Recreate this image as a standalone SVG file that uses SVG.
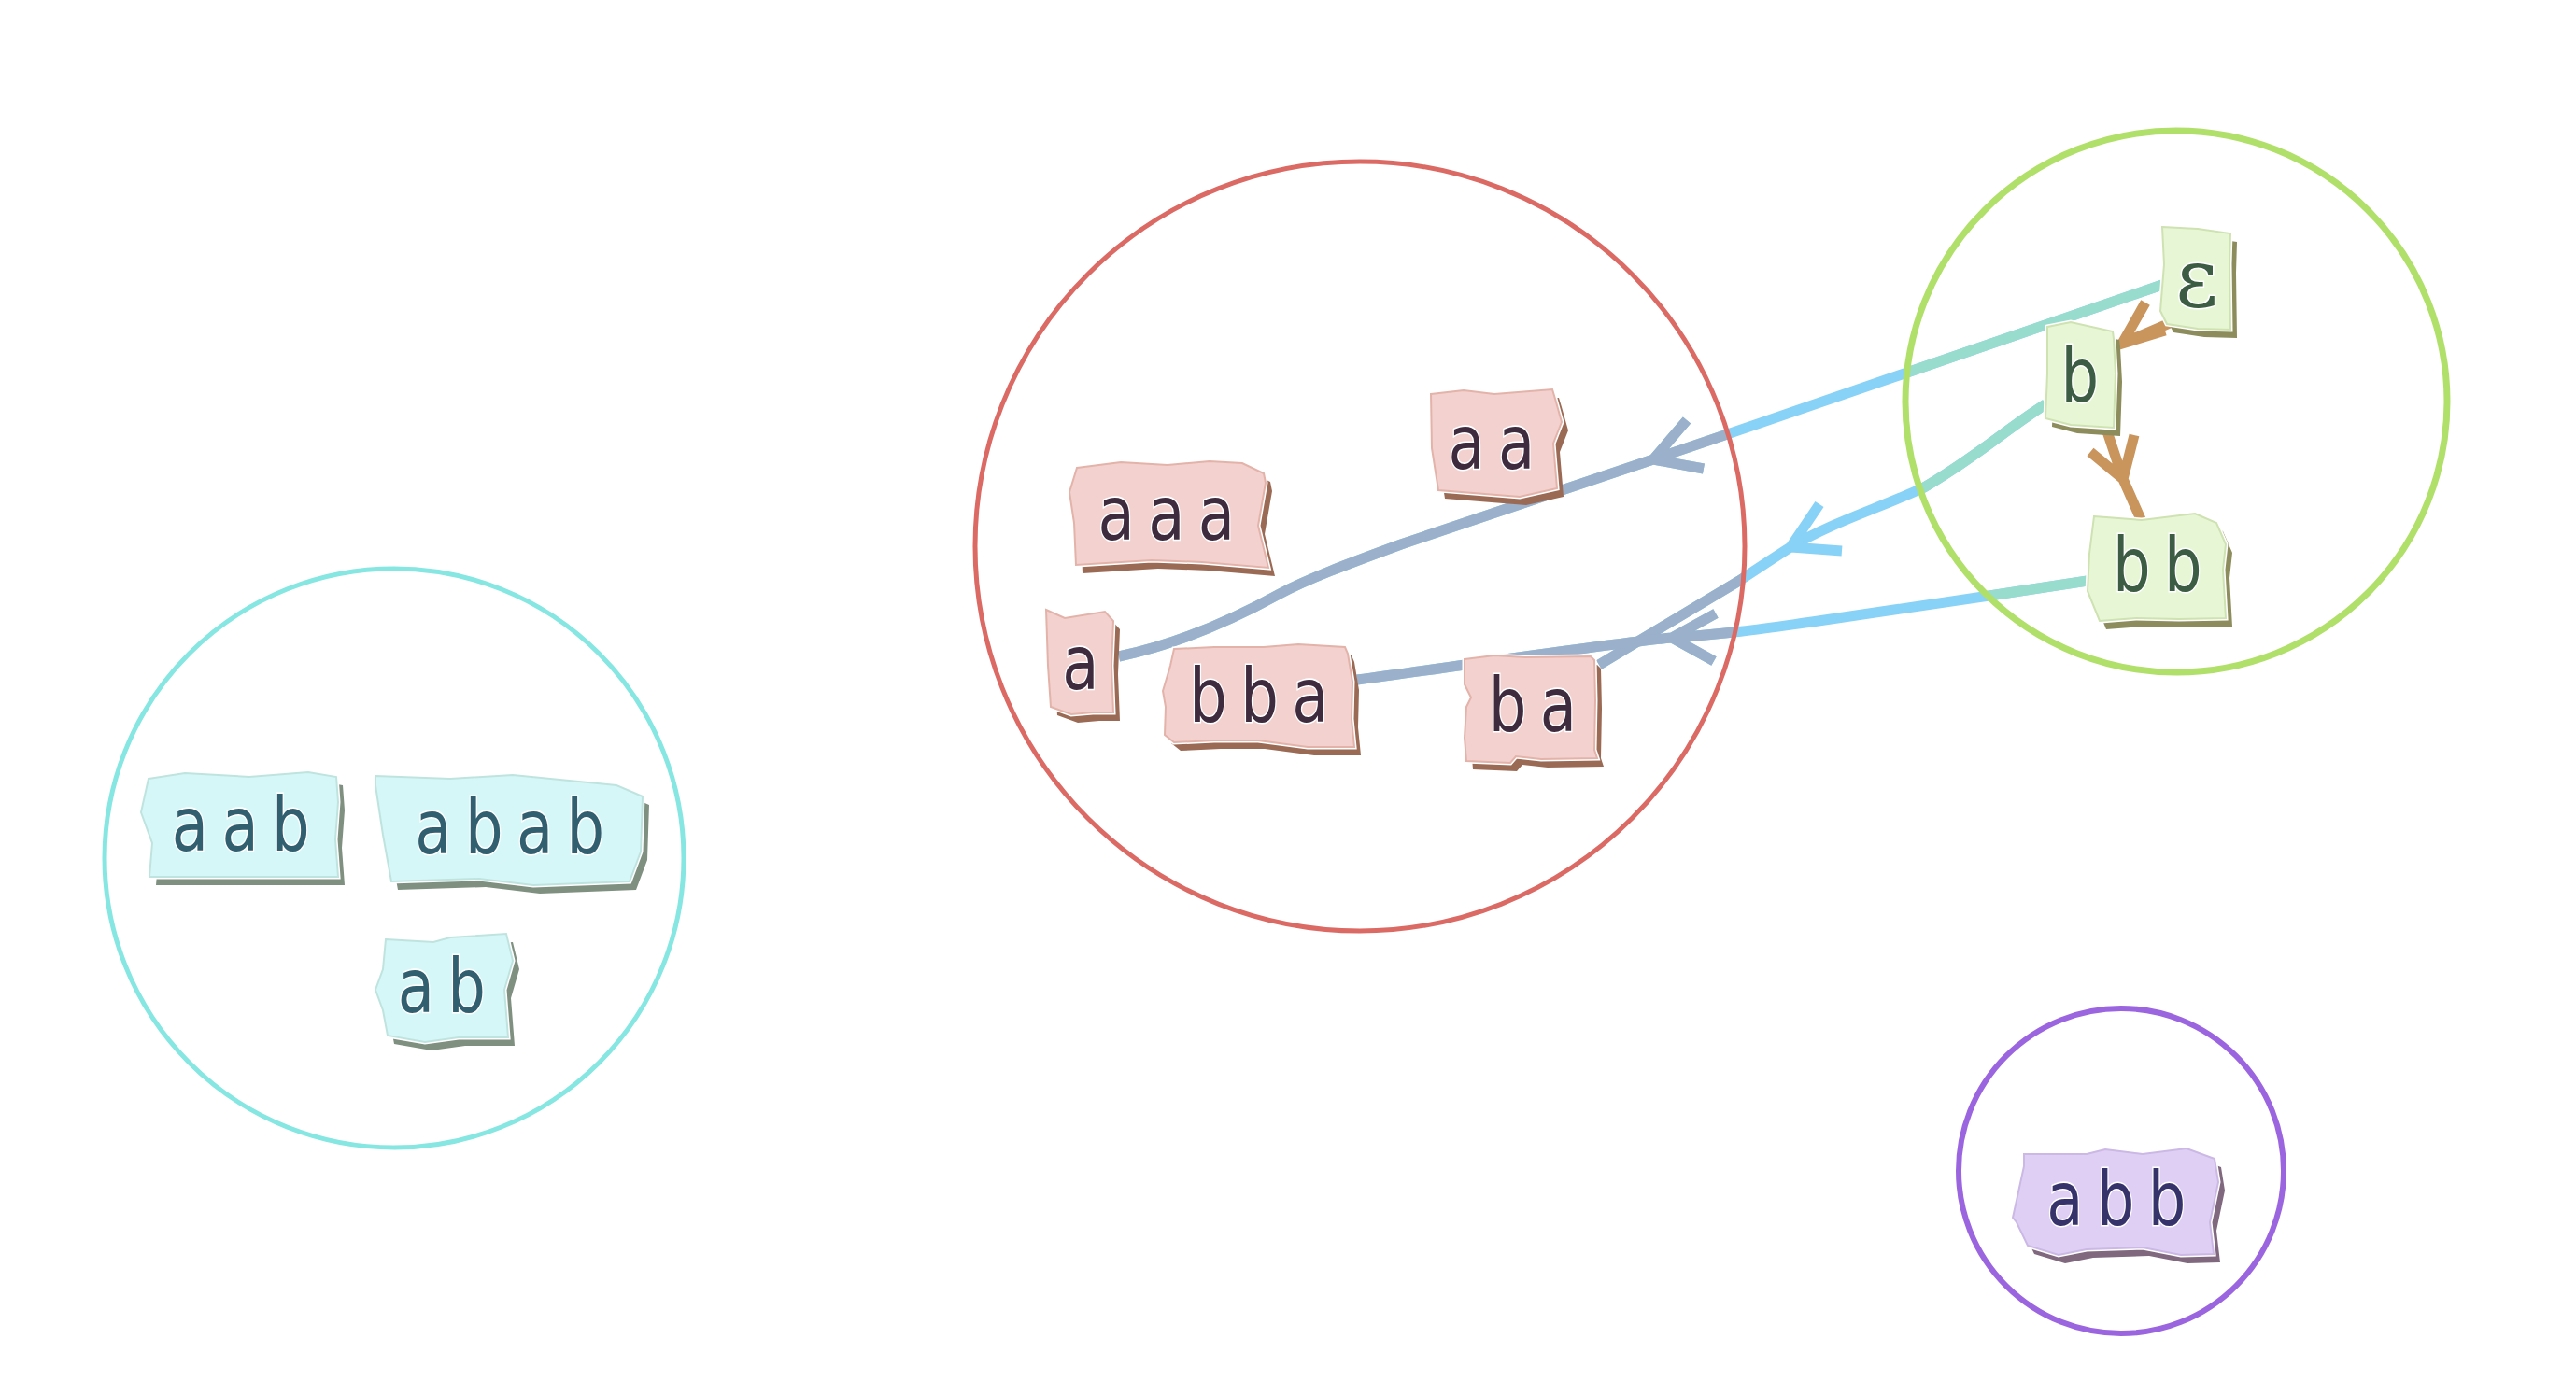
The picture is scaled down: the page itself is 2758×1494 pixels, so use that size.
<svg xmlns="http://www.w3.org/2000/svg" xmlns:xlink="http://www.w3.org/1999/xlink" width="2758" height="1494" viewBox="0 0 2758 1494">
  <style>
    .clu { fill: none; }
    .edge { fill: none; stroke-width: 11; stroke-linejoin: miter; stroke-linecap: butt; }
    .out { stroke: #88d2f7; }
    .inr { stroke: #9bb0ca; }
    .ing { stroke: #97dccc; }
    .orange { stroke: #c9955c; }
    .halo { fill: none; stroke: #ffffff; stroke-width: 5; }
    .lbl { font-family: "DejaVu Sans", "Liberation Sans", sans-serif; font-size: 80px; letter-spacing: 18px; text-anchor: middle; stroke: #ffffff; stroke-width: 3; paint-order: stroke; }
    .eps { font-family: "DejaVu Serif", "Liberation Serif", serif; font-size: 88px; letter-spacing: 0; }
    .red .face { fill: #f2d1cf; stroke: #e3b3aa; stroke-width: 2; }
    .red .sh { fill: #9a6a55; }
    .red text { fill: #3e2b3e; }
    .cyan .face { fill: #d6f7f7; stroke: #bfe4df; stroke-width: 2; }
    .cyan .sh { fill: #7f9080; }
    .cyan text { fill: #325f70; }
    .green .face { fill: #e7f6d5; stroke: #cfe2b2; stroke-width: 2; }
    .green .sh { fill: #8c8c5c; }
    .green text { fill: #3d5c44; }
    .purple .face { fill: #dfcff4; stroke: #cbb8e4; stroke-width: 2; }
    .purple .sh { fill: #80687f; }
    .purple text { fill: #36336a; }
  </style>
  <defs>
    <clipPath id="clipRed"><circle cx="1456" cy="585" r="412"/></clipPath>
    <clipPath id="clipGreen"><circle cx="2330" cy="430" r="290"/></clipPath>
    <!-- connector geometry: line plus open arrowhead -->
    <path id="e1" d="M2315,305 C2160,357 1960,428 1770,492 L1500,583 C1440,605 1400,620 1370,636 C1330,658 1270,688 1198,703 M1806,450 L1770,492 L1824,502"/>
    <path id="e2" d="M2190,433 C2150,458 2115,490 2060,522 C2010,545 1960,560 1917,586 C1895,600 1880,610 1862,622 L1712,712 M1948,540 L1917,586 L1972,590"/>
    <path id="e3" d="M2235,622 L2130,638 C2060,648 2000,657 1940,666 C1890,673 1860,678 1790,683 C1700,692 1560,714 1453,728 M1837,657 L1790,683 L1835,708"/>
    <path id="o1" d="M2330,343 L2272,368 M2297,324 L2272,368 L2318,354"/>
    <path id="o2" d="M2256,462 L2273,513 L2292,556 M2238,484 L2273,513 L2285,466"/>
  </defs>

  <g id="connectors">
    <g class="edge out">
      <use href="#e1"/><use href="#e2"/><use href="#e3"/>
    </g>
    <g class="edge inr" clip-path="url(#clipRed)">
      <use href="#e1"/><use href="#e2"/><use href="#e3"/>
    </g>
    <g class="edge ing" clip-path="url(#clipGreen)">
      <use href="#e1"/><use href="#e2"/><use href="#e3"/>
    </g>
    <g class="edge orange">
      <use href="#o1"/><use href="#o2"/>
    </g>
  </g>

  <g id="clusters">
    <circle class="clu" cx="422" cy="919" r="310" stroke="#86e6e2" stroke-width="5"/>
    <circle class="clu" cx="1456" cy="585" r="412" stroke="#dc6a64" stroke-width="5"/>
    <circle class="clu" cx="2330" cy="430" r="290" stroke="#b0e06a" stroke-width="7"/>
    <circle class="clu" cx="2271" cy="1254" r="174" stroke="#9b65e0" stroke-width="6"/>
  </g>

  <!-- red cluster -->
  <g id="n-aaa" class="node red" transform="translate(1145,495)">
    <polygon class="sh" transform="translate(7,9)" points="8,6 55,0 105,3 150,-1 185,1 208,12 210,22 202,68 213,113 142,107 88,105 7,110 5,65 0,32"/>
    <polygon class="halo" points="8,6 55,0 105,3 150,-1 185,1 208,12 210,22 202,68 213,113 142,107 88,105 7,110 5,65 0,32"/>
    <polygon class="face" points="8,6 55,0 105,3 150,-1 185,1 208,12 210,22 202,68 213,113 142,107 88,105 7,110 5,65 0,32"/>
    <text class="lbl" transform="translate(111,83) scale(0.8,1)">aaa</text>
  </g>
  <g id="n-aa" class="node red" transform="translate(1532,417)">
    <polygon class="sh" transform="translate(7,9)" points="0,5 35,1 68,5 130,0 133,10 140,35 131,58 135,106 95,115 8,108 1,63"/>
    <polygon class="halo" points="0,5 35,1 68,5 130,0 133,10 140,35 131,58 135,106 95,115 8,108 1,63"/>
    <polygon class="face" points="0,5 35,1 68,5 130,0 133,10 140,35 131,58 135,106 95,115 8,108 1,63"/>
    <text class="lbl" transform="translate(72,85) scale(0.8,1)">aa</text>
  </g>
  <g id="n-a" class="node red" transform="translate(1120,653)">
    <polygon class="sh" transform="translate(7,9)" points="0,0 20,9 63,2 72,12 70,60 72,110 50,110 27,112 5,104 2,60"/>
    <polygon class="halo" points="0,0 20,9 63,2 72,12 70,60 72,110 50,110 27,112 5,104 2,60"/>
    <polygon class="face" points="0,0 20,9 63,2 72,12 70,60 72,110 50,110 27,112 5,104 2,60"/>
    <text class="lbl" transform="translate(44,85) scale(0.8,1)">a</text>
  </g>
  <g id="n-bba" class="node red" transform="translate(1245,690)">
    <polygon class="sh" transform="translate(7,9)" points="12,5 55,3 108,3 145,0 195,3 198,10 203,40 202,80 205,110 155,110 102,103 55,103 12,105 2,97 3,67 0,50 8,23"/>
    <polygon class="halo" points="12,5 55,3 108,3 145,0 195,3 198,10 203,40 202,80 205,110 155,110 102,103 55,103 12,105 2,97 3,67 0,50 8,23"/>
    <polygon class="face" points="12,5 55,3 108,3 145,0 195,3 198,10 203,40 202,80 205,110 155,110 102,103 55,103 12,105 2,97 3,67 0,50 8,23"/>
    <text class="lbl" transform="translate(110,83) scale(0.8,1)">bba</text>
  </g>
  <g id="n-ba" class="node red" transform="translate(1568,702)">
    <polygon class="sh" transform="translate(7,9)" points="0,4 32,0 65,2 135,1 139,5 140,48 139,101 142,110 82,111 55,108 49,115 2,113 0,88 2,55 7,45 0,31"/>
    <polygon class="halo" points="0,4 32,0 65,2 135,1 139,5 140,48 139,101 142,110 82,111 55,108 49,115 2,113 0,88 2,55 7,45 0,31"/>
    <polygon class="face" points="0,4 32,0 65,2 135,1 139,5 140,48 139,101 142,110 82,111 55,108 49,115 2,113 0,88 2,55 7,45 0,31"/>
    <text class="lbl" transform="translate(80,81) scale(0.8,1)">ba</text>
  </g>

  <!-- green cluster -->
  <g id="n-eps" class="node green" transform="translate(2315,243)">
    <polygon class="sh" transform="translate(7,9)" points="0,0 38,2 73,7 72,40 73,110 38,109 5,104 -2,90 2,40"/>
    <polygon class="halo" points="0,0 38,2 73,7 72,40 73,110 38,109 5,104 -2,90 2,40"/>
    <polygon class="face" points="0,0 38,2 73,7 72,40 73,110 38,109 5,104 -2,90 2,40"/>
    <text class="lbl eps" x="37" y="85">ε</text>
  </g>
  <g id="n-b" class="node green" transform="translate(2190,345)">
    <polygon class="sh" transform="translate(7,9)" points="2,5 27,0 72,10 73,18 75,55 73,113 27,110 0,103 2,55"/>
    <polygon class="halo" points="2,5 27,0 72,10 73,18 75,55 73,113 27,110 0,103 2,55"/>
    <polygon class="face" points="2,5 27,0 72,10 73,18 75,55 73,113 27,110 0,103 2,55"/>
    <text class="lbl" transform="translate(44,85) scale(0.8,1)">b</text>
  </g>
  <g id="n-bb" class="node green" transform="translate(2235,550)">
    <polygon class="sh" transform="translate(7,9)" points="7,3 58,7 115,0 138,10 148,33 145,60 148,112 98,113 52,112 13,115 0,83 2,43"/>
    <polygon class="halo" points="7,3 58,7 115,0 138,10 148,33 145,60 148,112 98,113 52,112 13,115 0,83 2,43"/>
    <polygon class="face" points="7,3 58,7 115,0 138,10 148,33 145,60 148,112 98,113 52,112 13,115 0,83 2,43"/>
    <text class="lbl" transform="translate(82,83) scale(0.8,1)">bb</text>
  </g>

  <!-- cyan cluster -->
  <g id="n-aab" class="node cyan" transform="translate(150,827)">
    <polygon class="sh" transform="translate(7,9)" points="9,7 48,1 117,5 180,0 210,5 212,32 209,72 212,112 10,112 13,76 1,43"/>
    <polygon class="halo" points="9,7 48,1 117,5 180,0 210,5 212,32 209,72 212,112 10,112 13,76 1,43"/>
    <polygon class="face" points="9,7 48,1 117,5 180,0 210,5 212,32 209,72 212,112 10,112 13,76 1,43"/>
    <text class="lbl" transform="translate(115,84) scale(0.8,1)">aab</text>
  </g>
  <g id="n-abab" class="node cyan" transform="translate(402,830)">
    <polygon class="sh" transform="translate(7,9)" points="0,1 80,4 147,0 258,11 286,23 284,82 272,114 169,118 111,111 17,114 8,64 0,11"/>
    <polygon class="halo" points="0,1 80,4 147,0 258,11 286,23 284,82 272,114 169,118 111,111 17,114 8,64 0,11"/>
    <polygon class="face" points="0,1 80,4 147,0 258,11 286,23 284,82 272,114 169,118 111,111 17,114 8,64 0,11"/>
    <text class="lbl" transform="translate(151,84) scale(0.8,1)">abab</text>
  </g>
  <g id="n-ab" class="node cyan" transform="translate(402,1000)">
    <polygon class="sh" transform="translate(7,9)" points="11,6 62,9 80,4 140,0 147,29 138,60 142,111 89,111 53,116 13,109 8,82 0,60 8,38"/>
    <polygon class="halo" points="11,6 62,9 80,4 140,0 147,29 138,60 142,111 89,111 53,116 13,109 8,82 0,60 8,38"/>
    <polygon class="face" points="11,6 62,9 80,4 140,0 147,29 138,60 142,111 89,111 53,116 13,109 8,82 0,60 8,38"/>
    <text class="lbl" transform="translate(78,84) scale(0.8,1)">ab</text>
  </g>

  <!-- purple cluster -->
  <g id="n-abb" class="node purple" transform="translate(2155,1230)">
    <polygon class="sh" transform="translate(7,9)" points="12,6 79,6 99,1 139,6 186,0 216,11 220,36 211,79 215,113 180,114 139,106 79,108 49,114 16,104 4,79 0,74 12,19"/>
    <polygon class="halo" points="12,6 79,6 99,1 139,6 186,0 216,11 220,36 211,79 215,113 180,114 139,106 79,108 49,114 16,104 4,79 0,74 12,19"/>
    <polygon class="face" points="12,6 79,6 99,1 139,6 186,0 216,11 220,36 211,79 215,113 180,114 139,106 79,108 49,114 16,104 4,79 0,74 12,19"/>
    <text class="lbl" transform="translate(118,82) scale(0.8,1)">abb</text>
  </g>
</svg>
